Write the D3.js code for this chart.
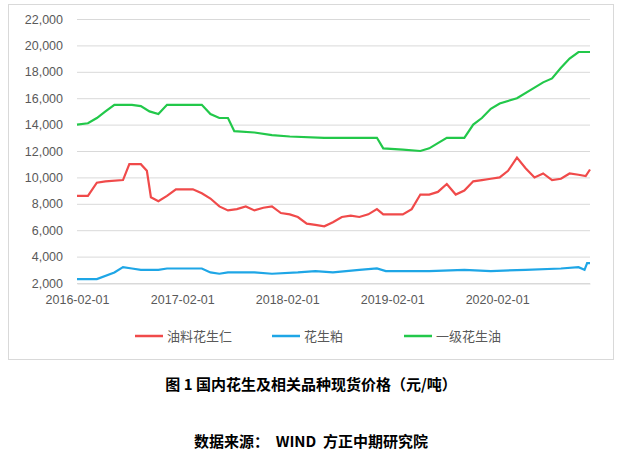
<!DOCTYPE html><html><head><meta charset="utf-8">
<script src="https://cdn.jsdelivr.net/npm/d3@7"></script>
<style>body{margin:0;background:#fff;font-family:"Liberation Sans",Arial,sans-serif}</style></head><body>
<svg id="c" width="622" height="459"></svg>
<script>
const yTicks=[2000,4000,6000,8000,10000,12000,14000,16000,18000,20000,22000];
const xTicks=["2016-02-01","2017-02-01","2018-02-01","2019-02-01","2020-02-01"];
const seriesNames=["油料花生仁","花生粕","一级花生油"];
const colors=["#f04a4a","#1ea6e6","#22c84a"];
const kernel=[["2016-02-01",8600],["2016-03-10",8600],["2016-04-10",9600],["2016-05-10",9700],["2016-07-10",9800],["2016-08-01",11000],["2016-09-10",11000],["2016-10-01",10500],["2016-10-15",8500],["2016-11-10",8200],["2016-12-10",8600],["2017-01-10",9100],["2017-03-10",9100],["2017-04-10",8800],["2017-05-10",8400],["2017-06-10",7800],["2017-07-10",7500],["2017-08-10",7600],["2017-09-10",7800],["2017-10-10",7500],["2017-11-10",7700],["2017-12-10",7800],["2018-01-10",7300],["2018-02-10",7200],["2018-03-10",7000],["2018-04-10",6500],["2018-05-10",6400],["2018-06-10",6300],["2018-07-10",6600],["2018-08-10",7000],["2018-09-10",7100],["2018-10-10",7000],["2018-11-10",7200],["2018-12-10",7600],["2019-01-01",7200],["2019-03-10",7200],["2019-04-10",7600],["2019-05-10",8700],["2019-06-10",8700],["2019-07-10",8900],["2019-08-10",9500],["2019-09-10",8700],["2019-10-10",9000],["2019-11-10",9700],["2019-12-10",9800],["2020-01-10",9900],["2020-02-10",10000],["2020-03-10",10500],["2020-04-10",11500],["2020-05-10",10700],["2020-06-10",10000],["2020-07-10",10300],["2020-08-10",9800],["2020-09-10",9900],["2020-10-10",10300],["2020-11-10",10200],["2020-12-05",10100],["2020-12-20",10600]];
const meal=[["2016-02-01",2300],["2016-04-10",2300],["2016-06-10",2800],["2016-07-10",3200],["2016-08-10",3100],["2016-09-10",3000],["2016-11-10",3000],["2016-12-10",3100],["2017-04-10",3100],["2017-05-10",2800],["2017-06-10",2700],["2017-07-10",2800],["2017-10-10",2800],["2017-12-10",2700],["2018-03-10",2800],["2018-05-10",2900],["2018-07-10",2800],["2018-10-10",3000],["2018-12-10",3100],["2019-01-10",2900],["2019-06-10",2900],["2019-10-10",3000],["2020-01-10",2900],["2020-05-10",3000],["2020-09-10",3100],["2020-11-10",3200],["2020-12-01",3000],["2020-12-10",3500],["2020-12-20",3500]];
const oil=[["2016-02-01",14000],["2016-03-10",14100],["2016-04-10",14500],["2016-05-10",15000],["2016-06-10",15500],["2016-08-10",15500],["2016-09-10",15400],["2016-10-10",15000],["2016-11-10",14800],["2016-12-10",15500],["2017-01-10",15500],["2017-04-10",15500],["2017-05-10",14800],["2017-06-10",14500],["2017-07-10",14500],["2017-08-01",13500],["2017-10-10",13400],["2017-12-10",13200],["2018-02-10",13100],["2018-06-10",13000],["2018-12-10",13000],["2019-01-01",12200],["2019-03-10",12100],["2019-05-10",12000],["2019-06-10",12200],["2019-07-10",12600],["2019-08-10",13000],["2019-10-10",13000],["2019-11-10",14000],["2019-12-10",14500],["2020-01-10",15200],["2020-02-10",15600],["2020-04-10",16000],["2020-06-10",16800],["2020-07-10",17200],["2020-08-10",17500],["2020-09-10",18300],["2020-10-10",19000],["2020-11-10",19500],["2020-12-20",19500]];
const svg=d3.select("#c");
svg.append("rect").attr("x",8.5).attr("y",4.5).attr("width",605).attr("height",355).attr("fill","none").attr("stroke","#d9d9d9");
const p=d3.timeParse("%Y-%m-%d");
const x=d3.scaleTime().domain([p("2016-02-01"),p("2020-12-20")]).range([77,590]);
const y=d3.scaleLinear().domain([2000,22000]).range([283,19]);
svg.append("g").selectAll("line").data(yTicks).join("line").attr("x1",77).attr("x2",590).attr("y1",d=>y(d)+.5).attr("y2",d=>y(d)+.5).attr("stroke","#d9d9d9");
const ya=svg.append("g").attr("transform","translate(77,0)").call(d3.axisLeft(y).tickValues(yTicks).tickSize(0).tickPadding(14).tickFormat(d3.format(",")));
ya.select(".domain").remove();
const xa=svg.append("g").attr("transform","translate(0,283.5)").call(d3.axisBottom(x).tickValues(xTicks.map(p)).tickSize(0).tickPadding(12).tickFormat(d3.timeFormat("%Y-%m-%d")));
xa.select(".domain").attr("stroke","#d9d9d9");
svg.selectAll(".tick text").attr("font-size",12.5).attr("fill","#595959").attr("font-family","Liberation Sans");
const line=d3.line().x(d=>x(p(d[0]))).y(d=>y(d[1]));
[kernel,meal,oil].forEach((s,i)=>svg.append("path").attr("d",line(s)).attr("fill","none").attr("stroke",colors[i]).attr("stroke-width",2.2));
const lx=[135,272,404];
seriesNames.forEach((n,i)=>{svg.append("line").attr("x1",lx[i]).attr("x2",lx[i]+28).attr("y1",336).attr("y2",336).attr("stroke",colors[i]).attr("stroke-width",2.5);
svg.append("text").attr("x",lx[i]+32).attr("y",341).text(n).attr("font-size",13).attr("fill","#595959").attr("font-family","Noto Sans CJK SC");});
svg.append("text").attr("x",311).attr("y",390).attr("text-anchor","middle").attr("font-size",15).attr("font-weight","bold").attr("font-family","Noto Sans CJK SC").text("图 1  国内花生及相关品种现货价格（元/吨）");
svg.append("text").attr("x",311).attr("y",447).attr("text-anchor","middle").attr("font-size",15).attr("font-weight","bold").attr("font-family","Noto Sans CJK SC").attr("xml:space","preserve").text("数据来源：  WIND  方正中期研究院");
</script></body></html>
